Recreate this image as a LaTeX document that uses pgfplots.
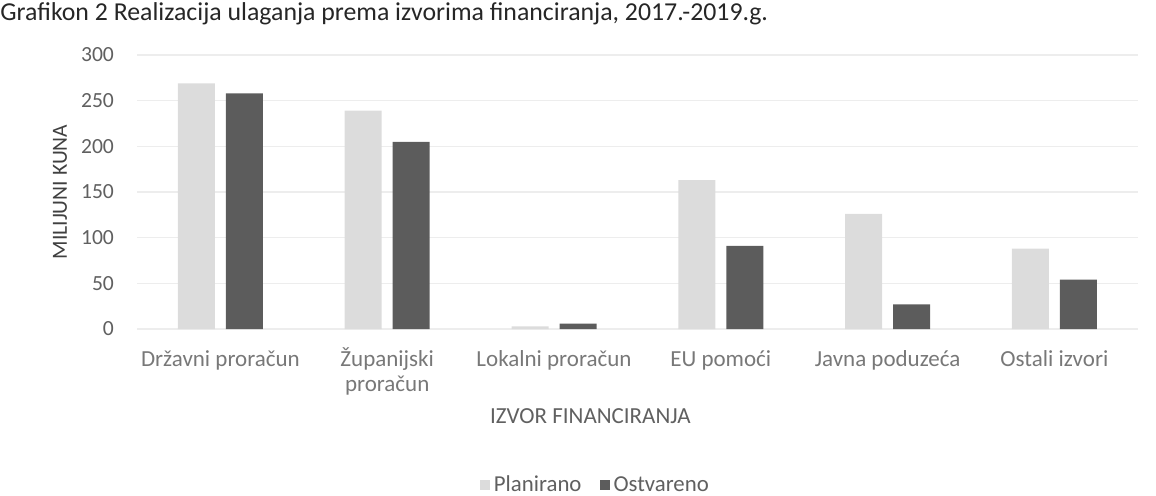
\documentclass[border=0pt]{standalone}
\usepackage{pgfplots}
\pgfplotsset{compat=1.18}
\usepackage{fontspec}
\setmainfont{Carlito}
\definecolor{planc}{HTML}{DCDCDC}
\definecolor{ostc}{HTML}{5C5C5C}
\definecolor{txtc}{HTML}{606060}
\definecolor{gridc}{HTML}{EDEDED}
\begin{document}
\begin{tikzpicture}
\path[use as bounding box] (-68.5pt,-83pt) rectangle (509.5pt,164.5pt);
\node[anchor=west, font=\fontsize{12.9}{15}\selectfont, text=black!85, inner sep=0pt] at (-68.5pt,157.5pt)
  {Grafikon 2 Realizacija ulaganja prema izvorima financiranja, 2017.-2019.g.};
\begin{axis}[
    at={(0,0)}, anchor=south west,
    scale only axis,
    width=500.4pt, height=137pt,
    ybar,
    bar width=18.5pt,
    xmin=-0.5, xmax=5.5,
    ymin=0, ymax=300,
    ytick={0,50,...,300},
    xtick={0,1,2,3,4,5},
    xticklabels={\vphantom{Ž}Državni proračun,{Županijski\\proračun},\vphantom{Ž}Lokalni proračun,\vphantom{Ž}EU pomoći,\vphantom{Ž}Javna poduzeća,\vphantom{Ž}Ostali izvori},
    xticklabel style={align=center, font=\fontsize{11.5}{12.5}\selectfont, text=txtc!85, yshift=-6pt},
    yticklabel style={font=\fontsize{10.8}{12}\selectfont, text=txtc, xshift=-8pt},
    /pgf/number format/assume math mode=true,
    axis line style={draw=none},
    major tick length=0pt,
    ymajorgrids,
    grid style={gridc, line width=0.6pt},
    xlabel={IZVOR FINANCIRANJA},
    xlabel style={at={(axis description cs:0.453,-0.318)}, anchor=center, font=\fontsize{11.5}{12}\selectfont, text=txtc},
    ylabel={MILIJUNI KUNA},
    ylabel style={at={(axis description cs:-0.077,0.5)}, anchor=center, font=\fontsize{10.8}{12}\selectfont, text=black!75},
    legend style={at={(0.459,-0.57)}, anchor=center, draw=none, legend columns=2,
        font=\fontsize{11.4}{12}\selectfont, text=txtc,
        /tikz/every even column/.append style={column sep=7pt}},
    legend image code/.code={\fill[#1] (0pt,-2.5pt) rectangle (5pt,2.5pt);},
]
\addplot[fill=planc, draw=none, bar shift=-12pt] coordinates {(0,269) (1,239) (2,3) (3,163) (4,126) (5,88)};
\addlegendentry{Planirano}
\addplot[fill=ostc, draw=none, bar shift=12pt] coordinates {(0,258) (1,205) (2,6) (3,91) (4,27) (5,54)};
\addlegendentry{Ostvareno}
\end{axis}
\end{tikzpicture}
\end{document}
